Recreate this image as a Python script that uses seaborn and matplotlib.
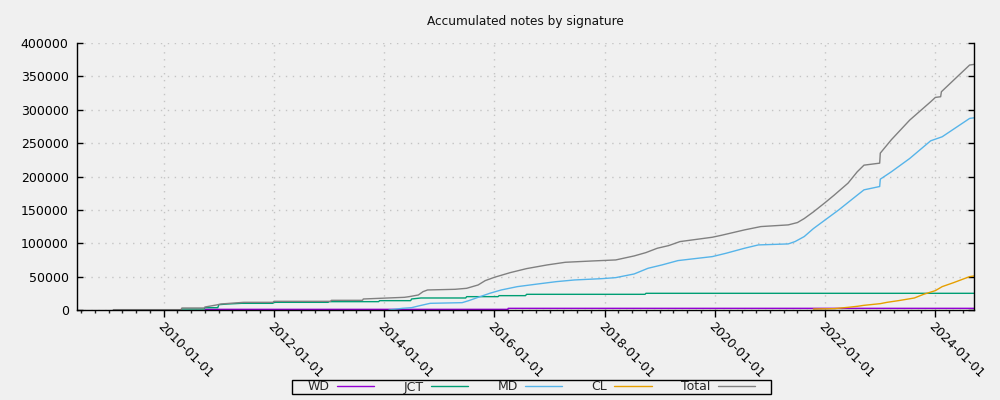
import numpy as np
import pandas as pd
import matplotlib
matplotlib.use("Agg")
import matplotlib.pyplot as plt
import matplotlib.dates as mdates
from matplotlib.patches import Rectangle
import seaborn as sns

END = "2024-09-15"

wd_dates = ["2010-10-01", "2016-03-31", "2016-04-01", END]
wd_vals = [1000, 1000, 2500, 2500]

jct_dates = ["2010-05-01", "2010-09-25", "2010-10-01", "2010-12-25", "2011-01-01",
             "2011-03-01", "2011-06-01", "2011-12-25", "2012-01-01", "2012-12-25",
             "2013-01-01", "2013-11-25", "2013-12-01", "2014-06-25", "2014-07-01",
             "2014-09-01", "2015-06-25", "2015-07-01", "2016-01-25", "2016-02-01",
             "2016-07-25", "2016-08-01", "2018-09-25", "2018-10-01", END]
jct_vals = [1500, 1500, 3500, 3500, 8000, 9000, 10000, 10000, 11500, 11500,
            12500, 12500, 14000, 14000, 16500, 18000, 18000, 20000, 20000, 21500,
            21500, 23500, 23500, 25000, 25000]

md_dates = ["2014-02-01", "2014-05-01", "2014-07-01", "2014-08-15", "2014-11-01",
            "2015-06-01", "2015-07-15", "2015-09-15", "2015-12-01", "2016-02-15",
            "2016-06-01", "2016-10-15", "2017-02-15", "2017-06-15", "2017-12-15",
            "2018-03-15", "2018-07-15", "2018-10-15", "2019-01-15", "2019-05-01",
            "2019-07-15", "2019-12-15", "2020-03-15", "2020-07-15", "2020-10-15",
            "2021-05-01", "2021-06-15", "2021-08-15", "2021-10-15", "2022-01-01",
            "2022-04-01", "2022-08-01", "2022-09-15", "2022-12-28", "2023-01-01",
            "2023-03-15", "2023-07-15", "2023-12-01", "2024-02-15", "2024-08-15", END]
md_vals = [0, 2500, 3500, 6000, 10000, 11000, 14000, 19000, 25000, 30000,
           35000, 39000, 42500, 45000, 47000, 48500, 54000, 62500, 67500, 74000,
           76000, 80000, 85000, 92500, 97500, 99000, 102500, 110000, 122000, 135000,
           150000, 172000, 180000, 185000, 196000, 207000, 227000, 253500, 259500, 287000, 288000]

cl_dates = ["2021-10-15", "2022-03-01", "2022-06-01", "2022-08-01", "2022-09-15",
            "2023-01-01", "2023-02-15", "2023-05-01", "2023-08-15", "2023-10-15",
            "2024-01-01", "2024-02-15", "2024-05-01", "2024-08-15", END]
cl_vals = [1500, 2000, 4000, 5500, 7000, 9500, 11500, 14000, 18000, 23500,
           29000, 35000, 41000, 50000, 51000]

total_dates = ["2009-02-01", "2010-04-25", "2010-05-01", "2010-09-25", "2010-10-01",
               "2010-12-15", "2011-01-15", "2011-03-15", "2011-06-15", "2011-12-25",
               "2012-01-01", "2013-01-10", "2013-01-15", "2013-08-10", "2013-08-15",
               "2014-05-15", "2014-06-15", "2014-08-15", "2014-09-15", "2014-10-15",
               "2015-04-15", "2015-07-01", "2015-09-15", "2015-11-01", "2016-01-01",
               "2016-04-15", "2016-08-01", "2016-12-15", "2017-04-15", "2017-10-15",
               "2018-03-15", "2018-07-15", "2018-10-01", "2018-12-15", "2019-03-01",
               "2019-05-15", "2019-12-15", "2020-02-15", "2020-07-15", "2020-11-01",
               "2021-05-01", "2021-07-01", "2021-08-15", "2021-10-15", "2022-01-01",
               "2022-03-01", "2022-06-01", "2022-08-01", "2022-09-15", "2022-12-28",
               "2023-01-01", "2023-03-15", "2023-07-15", "2023-12-01", "2024-01-01",
               "2024-02-05", "2024-02-10", "2024-08-15", END]
total_vals = [500, 500, 3000, 3000, 4500, 7500, 9000, 10000, 11500, 11500,
              13000, 13000, 14500, 14500, 16500, 19000, 20000, 22500, 27500, 30000,
              31000, 32500, 37500, 44000, 49000, 56000, 62000, 67500, 71500, 73500,
              75000, 81000, 86000, 92500, 96500, 102500, 109000, 112000, 120000, 125000,
              127500, 131000, 137000, 147000, 161000, 172000, 190000, 207000, 217000, 220000,
              235000, 255000, 284500, 312000, 318500, 319500, 327000, 367000, 368000]

series_names = ["WD", "JCT", "MD", "CL", "Total"]
series_colors = ["#9400d3", "#009e73", "#56b4e9", "#e69f00", "#808080"]

frames = []
for name, d, v in [("WD", wd_dates, wd_vals), ("JCT", jct_dates, jct_vals),
                   ("MD", md_dates, md_vals), ("CL", cl_dates, cl_vals),
                   ("Total", total_dates, total_vals)]:
    frames.append(pd.DataFrame({"date": pd.to_datetime(d), "notes": v, "sig": name}))
df = pd.concat(frames, ignore_index=True)

sns.set_style("white")
plt.rcParams["font.family"] = ["DejaVu Sans"]

BG = "#f0f0f0"
fig = plt.figure(figsize=(10, 4), dpi=100, facecolor=BG)
ax = fig.add_axes([0.077, 0.225, 0.897, 0.6675])
ax.set_facecolor(BG)

for name, col in zip(series_names, series_colors):
    sub = df[df["sig"] == name]
    sns.lineplot(data=sub, x="date", y="notes", ax=ax, color=col, lw=1.0,
                 estimator=None, sort=False, label=name, legend=False)

ax.set_xlim(pd.Timestamp("2008-06-05"), pd.Timestamp("2024-09-13"))
ax.set_ylim(0, 400000)
ax.set_yticks(np.arange(0, 400001, 50000))
ax.yaxis.set_major_formatter(matplotlib.ticker.FuncFormatter(lambda v, p: f"{int(v)}"))

ax.xaxis.set_major_locator(mdates.YearLocator(2))
ax.xaxis.set_minor_locator(mdates.MonthLocator(bymonth=[1, 4, 7, 10]))
ax.xaxis.set_major_formatter(mdates.DateFormatter("%Y-%m-%d"))

ax.set_xlabel("")
ax.set_ylabel("")
ax.set_title("Accumulated notes by signature", fontsize=8.7, pad=13, color="#111111")

for s in ["left", "bottom", "right"]:
    ax.spines[s].set_visible(True)
    ax.spines[s].set_color("black")
    ax.spines[s].set_linewidth(1.0)
ax.spines["top"].set_visible(False)

ax.tick_params(axis="y", which="major", direction="in", length=4, width=1,
               left=True, right=True, labelsize=9, colors="black", pad=6)
ax.tick_params(axis="x", which="major", direction="out", length=5, width=1,
               bottom=True, labelsize=9, colors="black", pad=2)
ax.tick_params(axis="x", which="minor", direction="out", length=2.5, width=1, bottom=True)

for lab in ax.get_xticklabels():
    lab.set_rotation(-45)
    lab.set_ha("left")
    lab.set_va("top")
    lab.set_rotation_mode("anchor")

ax.grid(True, which="major", axis="both", color="#c4c4c4", linestyle=(0, (1, 4)), lw=1.0)
ax.set_axisbelow(True)

# legend box (gnuplot-style wide frame)
fig.patches.append(Rectangle((0.292, 6 / 400), 0.479, 14 / 400, transform=fig.transFigure,
                             facecolor="none", edgecolor="black", lw=1.0))

handles, labels = ax.get_legend_handles_labels()
leg = fig.legend(handles, labels, loc="center", bbox_to_anchor=(0.5315, 13 / 400),
                 ncol=5, markerfirst=False, frameon=False, fontsize=9,
                 handlelength=3.0, columnspacing=2.35, handletextpad=0.55,
                 borderpad=0.0, borderaxespad=0)

fig.savefig("out.png", dpi=100, facecolor=BG)
